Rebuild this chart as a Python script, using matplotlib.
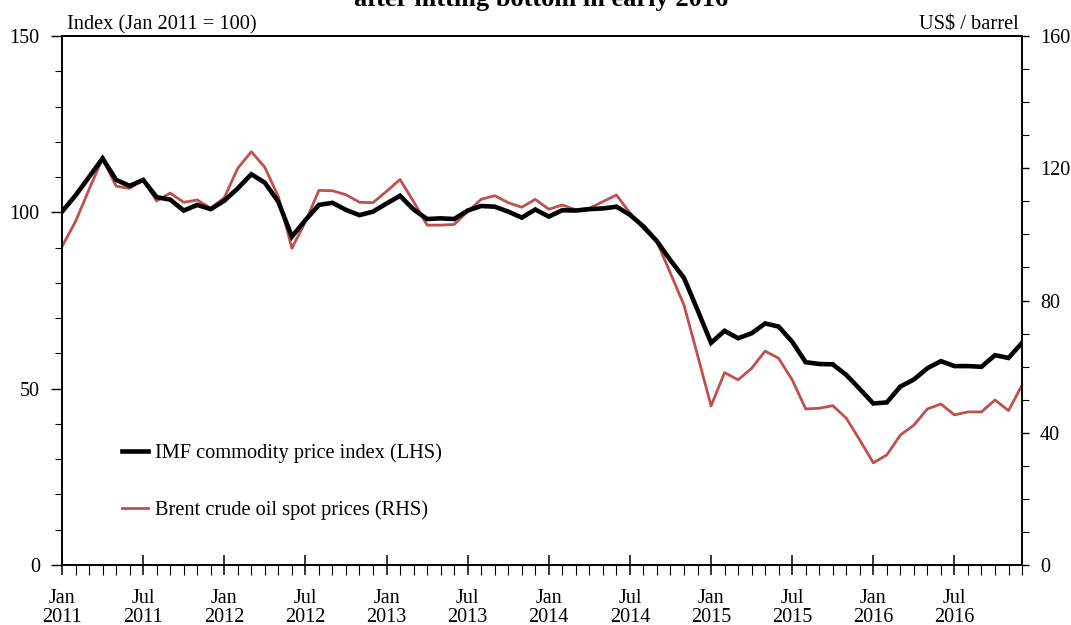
import matplotlib
matplotlib.use('Agg')
import matplotlib.pyplot as plt
from matplotlib.ticker import MultipleLocator, FixedLocator
from matplotlib.lines import Line2D

plt.rcParams['font.family'] = ['Liberation Serif', 'DejaVu Serif']

# ── data: monthly, Jan 2011 .. Dec 2016 ───────────────────────────────────────
imf_index = [
    100.2, 104.8, 110.0, 115.3, 109.2, 107.5, 109.2, 104.3, 103.6, 100.5, 102.1, 100.9,  # 2011
    103.3, 106.8, 110.8, 108.4, 103.0, 93.1, 97.8, 102.1, 102.7, 100.7, 99.2, 100.2,     # 2012
    102.5, 104.7, 100.8, 98.1, 98.3, 98.1, 100.5, 101.8, 101.6, 100.2, 98.5, 100.8,      # 2013
    98.8, 100.6, 100.5, 100.9, 101.1, 101.6, 99.3, 96.0, 91.8, 86.4, 81.4, 72.3,         # 2014
    63.0, 66.4, 64.3, 65.7, 68.5, 67.6, 63.3, 57.5, 57.0, 56.9, 53.9, 49.9,              # 2015
    45.8, 46.1, 50.6, 52.6, 55.8, 57.8, 56.4, 56.4, 56.2, 59.5, 58.7, 63.0,              # 2016
]
brent = [
    96.3, 103.9, 113.6, 123.0, 114.6, 113.9, 116.5, 110.1, 112.5, 109.7, 110.4, 107.9,
    111.1, 120.0, 125.0, 120.3, 111.4, 95.8, 103.8, 113.3, 113.2, 112.0, 109.7, 109.6,
    113.0, 116.6, 109.9, 102.8, 102.8, 103.0, 106.9, 110.6, 111.7, 109.6, 108.2, 110.6,
    107.6, 108.9, 107.4, 107.9, 109.9, 111.9, 106.5, 101.8, 97.7, 88.2, 78.6, 63.5,
    48.1, 58.2, 56.0, 59.5, 64.7, 62.5, 56.0, 47.2, 47.4, 48.2, 44.4, 37.8,
    30.9, 33.3, 39.3, 42.3, 47.2, 48.7, 45.4, 46.3, 46.3, 49.9, 46.7, 54.4,
]
tick_labels = ['Jan\n2011', 'Jul\n2011', 'Jan\n2012', 'Jul\n2012', 'Jan\n2013', 'Jul\n2013',
               'Jan\n2014', 'Jul\n2014', 'Jan\n2015', 'Jul\n2015', 'Jan\n2016', 'Jul\n2016']

months = list(range(len(imf_index)))
RED = '#C0504D'

fig = plt.figure(figsize=(10.71, 6.25), dpi=100)
ax = fig.add_axes([0.0579, 0.096, 0.8964, 0.8464])
ax2 = ax.twinx()

ax.plot(months, imf_index, color='black', lw=3.3, solid_joinstyle='miter', zorder=3)
ax2.plot(months, brent, color=RED, lw=2.0, zorder=2)
ax.set_zorder(ax2.get_zorder() + 1)
ax.patch.set_visible(False)

ax.set_xlim(0, len(months) - 1)
ax.set_ylim(0, 150)
ax2.set_ylim(0, 160)

# ── ticks ─────────────────────────────────────────────────────────────────────
ax.xaxis.set_major_locator(FixedLocator(list(range(0, 72, 6))))
ax.xaxis.set_minor_locator(MultipleLocator(1))
ax.set_xticklabels(tick_labels, fontsize=14.5, linespacing=1.0)
ax.tick_params(axis='x', which='major', direction='inout', length=14, width=1.1, pad=10)
ax.tick_params(axis='x', which='minor', direction='out', length=7, width=0.8)

ax.yaxis.set_major_locator(MultipleLocator(50))
ax.yaxis.set_minor_locator(MultipleLocator(10))
ax.tick_params(axis='y', which='major', direction='out', length=8, width=1.0, labelsize=14.5, pad=8)
ax.tick_params(axis='y', which='minor', direction='out', length=5, width=0.8)

ax2.yaxis.set_major_locator(MultipleLocator(40))
ax2.yaxis.set_minor_locator(MultipleLocator(10))
ax2.tick_params(axis='y', which='major', direction='out', length=5, width=1.0, labelsize=14.5, pad=8)
ax2.tick_params(axis='y', which='minor', direction='out', length=5, width=0.8)

for a in (ax, ax2):
    for s in a.spines.values():
        s.set_linewidth(1.2)

# ── text ──────────────────────────────────────────────────────────────────────
ax.text(0.005, 1.003, 'Index (Jan 2011 = 100)', transform=ax.transAxes,
        ha='left', va='bottom', fontsize=14.7)
ax.text(0.997, 1.003, 'US$ / barrel', transform=ax.transAxes,
        ha='right', va='bottom', fontsize=14.7)
fig.text(0.505, 1.001, 'after hitting bottom in early 2016', ha='center', va='center',
         fontsize=19, fontweight='bold')

handles = [Line2D([], [], color='black', lw=3.3),
           Line2D([], [], color=RED, lw=2.0)]
ax.legend(handles, ['IMF commodity price index (LHS)', 'Brent crude oil spot prices (RHS)'],
          loc='lower left', bbox_to_anchor=(0.043, 0.05), frameon=False,
          fontsize=14.7, handlelength=1.3, handletextpad=0.35, labelspacing=1.85)

fig.savefig('out.png', dpi=100, facecolor='white')
